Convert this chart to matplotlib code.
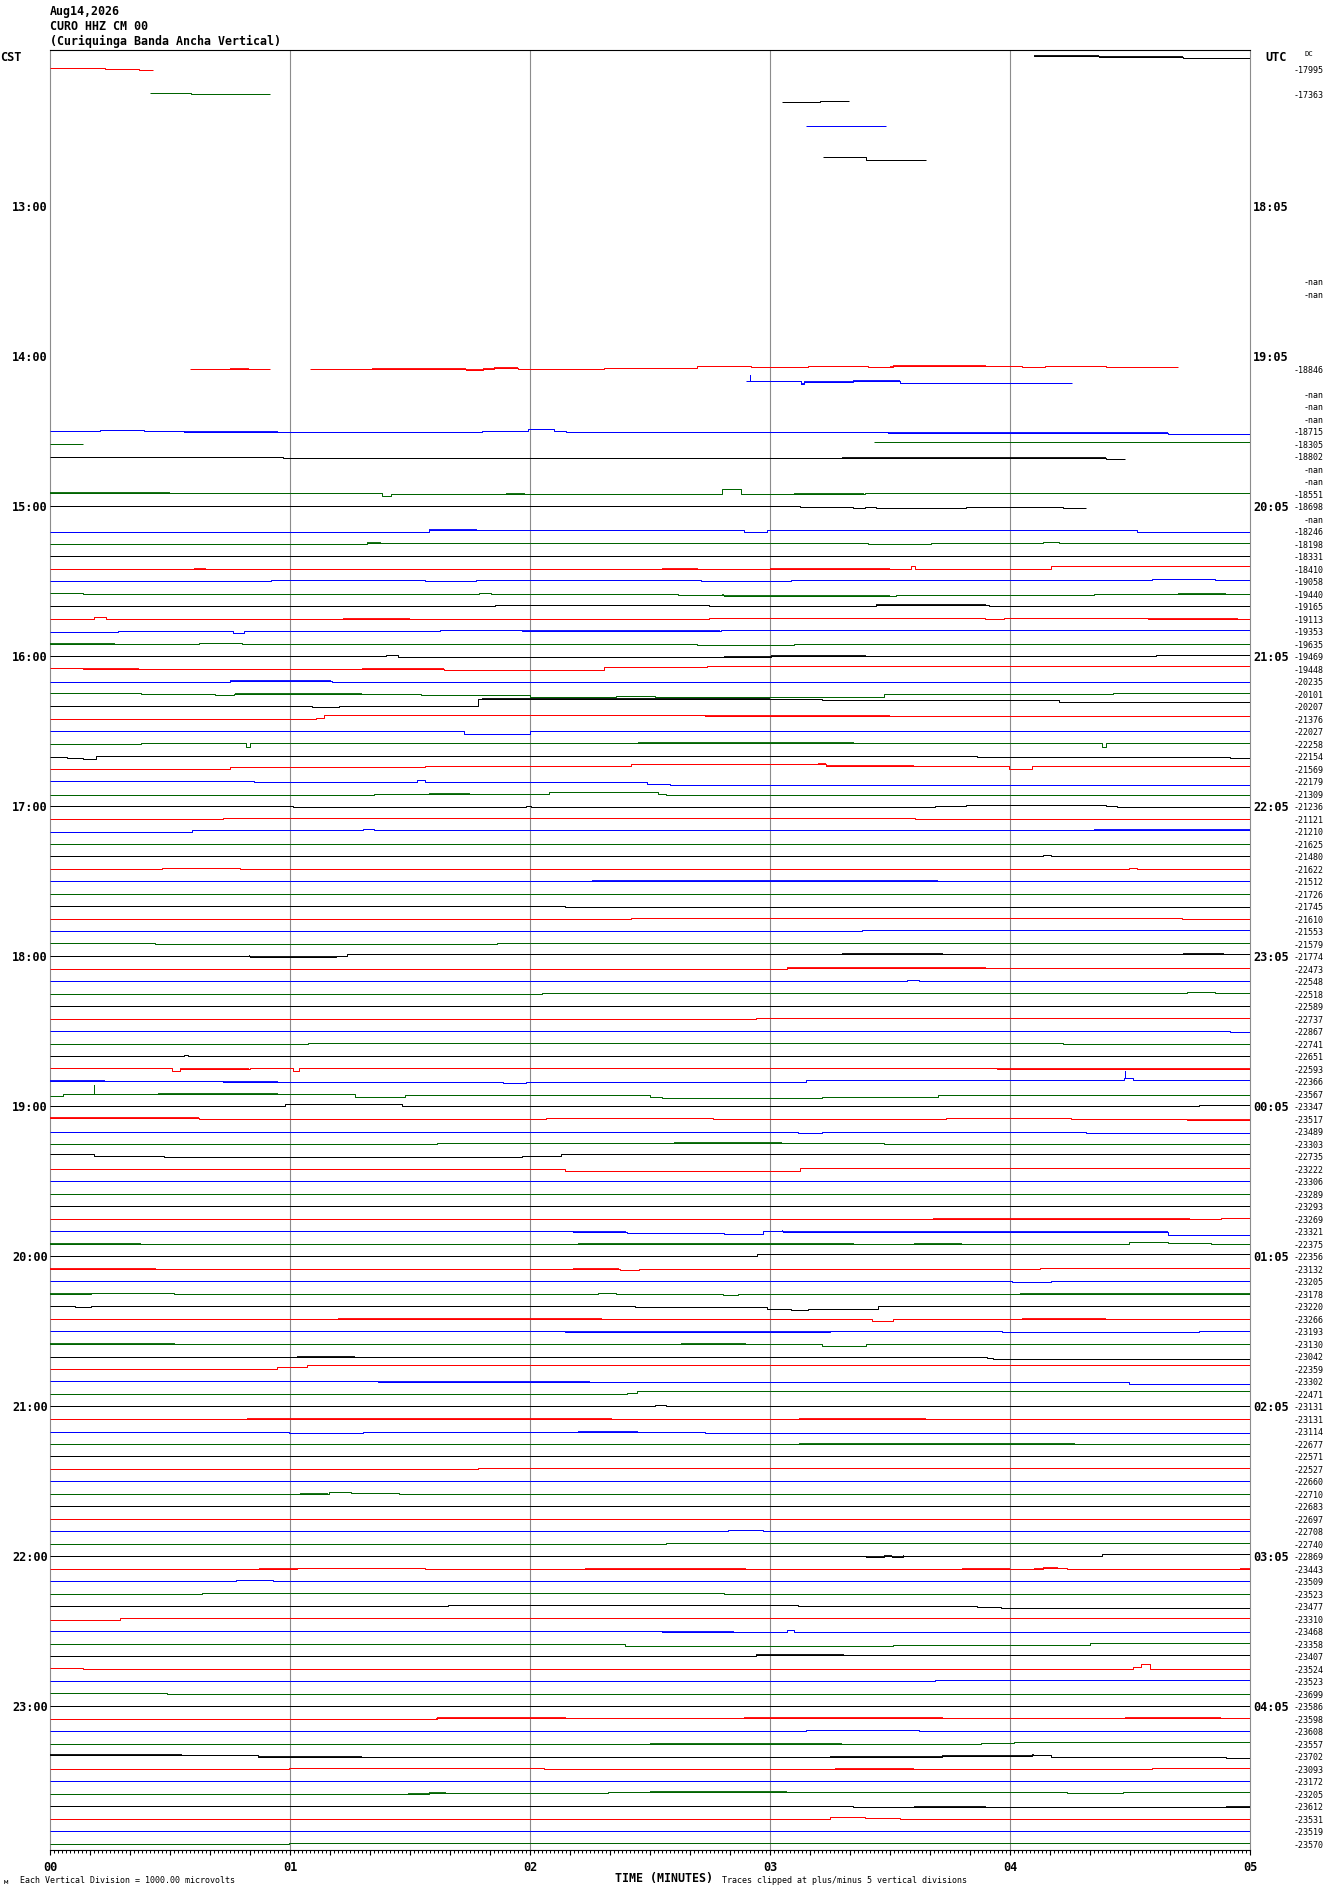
import matplotlib
matplotlib.use('Agg')
import matplotlib.pyplot as plt

# ---------------- data ----------------
title_lines = ['Aug14,2026', 'CURO HHZ CM 00', '(Curiquinga Banda Ancha Vertical)']
cst_labels = ['13:00', '14:00', '15:00', '16:00', '17:00', '18:00', '19:00',
              '20:00', '21:00', '22:00', '23:00']
utc_labels = ['18:05', '19:05', '20:05', '21:05', '22:05', '23:05', '00:05',
              '01:05', '02:05', '03:05', '04:05']
minute_labels = ['00', '01', '02', '03', '04', '05']

# DC offset label per row (row 0 .. 143), '' = none
dc_labels = (['', '-17995', '', '-17363'] + [''] * 14 + ['-nan', '-nan'] + [''] * 5 +
             ['-18846', '', '-nan', '-nan', '-nan', '-18715', '-18305', '-18802', '-nan', '-nan',
              '-18551', '-18698', '-nan', '-18246', '-18198', '-18331', '-18410', '-19058',
              '-19440', '-19165', '-19113', '-19353', '-19635', '-19469', '-19448', '-20235',
              '-20101', '-20207', '-21376', '-22027', '-22258', '-22154', '-21569', '-22179',
              '-21309', '-21236', '-21121', '-21210', '-21625', '-21480', '-21622', '-21512',
              '-21726', '-21745', '-21610', '-21553', '-21579', '-21774', '-22473', '-22548',
              '-22518', '-22589', '-22737', '-22867', '-22741', '-22651', '-22593', '-22366',
              '-23567', '-23347', '-23517', '-23489', '-23303', '-22735', '-23222', '-23306',
              '-23289', '-23293', '-23269', '-23321', '-22375', '-22356', '-23132', '-23205',
              '-23178', '-23220', '-23266', '-23193', '-23130', '-23042', '-22359', '-23302',
              '-22471', '-23131', '-23131', '-23114', '-22677', '-22571', '-22527', '-22660',
              '-22710', '-22683', '-22697', '-22708', '-22740', '-22869', '-23443', '-23509',
              '-23523', '-23477', '-23310', '-23468', '-23358', '-23407', '-23524', '-23523',
              '-23699', '-23586', '-23598', '-23608', '-23557', '-23702', '-23093', '-23172',
              '-23205', '-23612', '-23531', '-23519', '-23570'])

# traces: (row, end minute, [(start minute, deviation), ...]) deviation in chart pixels
traces = [
    (0, 5.0, [(4.10, -1.2), (4.37, -0.2), (4.72, 0.8)]),
    (1, 0.43, [(0.0, -1.7), (0.23, -0.7), (0.37, 0.3)]),
    (3, 0.917, [(0.415, -1.7), (0.587, -0.7)]),
    (4, 3.33, [(3.05, -5.8), (3.21, -6.2)]),
    (6, 3.485, [(3.15, -6.2)]),
    (8, 3.65, [(3.22, -0.8), (3.40, 2.5)]),
    (25, 0.917, [(0.583, -0.7)]),
    (25, 4.70, [(1.083, -0.7), (1.342, -1.3), (1.734, 0.3), (1.805, -0.7), (1.848, -1.7),
                (1.951, -1.0), (2.308, -1.7), (2.697, -4.0), (2.921, -2.7), (3.16, -4.0),
                (3.41, -2.7), (3.514, -3.7), (3.896, -4.0), (4.049, -2.7), (4.146, -4.0),
                (4.399, -2.7), (4.496, -3.3)]),
    (26, 4.26, [(2.90, -1.5), (3.13, 1.8), (3.14, -0.5), (3.345, -1.5), (3.54, 0.0)]),
    (30, 5.0, [(0, -1.5), (0.21, -2.2), (0.39, -1.5), (0.56, -0.5), (1.0, -0.8), (1.80, -1.8),
               (1.99, -3.2), (2.10, -1.5), (2.15, -0.2), (3.49, 0.2), (4.66, 1.2)]),
    (31, 0.136, [(0, -1.0)]),
    (31, 5.0, [(3.433, -2.7)]),
    (32, 4.48, [(0, -0.8), (0.97, 0.2), (4.40, 1.2)]),
    (35, 5.0, [(0, -1.7), (1.384, 1.0), (1.42, -1.3), (2.80, -5.7), (2.878, -0.7), (3.394, -1.7)]),
    (36, 4.318, [(0, -1.2), (3.125, -0.2), (3.345, 0.8), (3.394, -0.2), (3.442, 0.8),
                 (3.815, -0.2), (4.22, 0.8)]),
    (38, 5.0, [(0, -0.8), (1.579, -2.2), (2.891, -0.8), (2.989, -2.2), (4.528, -0.8)]),
    (39, 5.0, [(0, -0.7), (1.319, -1.7), (3.41, -0.7), (3.669, -1.7), (4.139, -2.7), (4.204, -1.7)]),
    (40, 5.0, [(0, -1.2)]),
    (41, 5.0, [(0, -0.7), (3.588, -4.0), (3.605, -0.7), (4.172, -4.0)]),
    (42, 5.0, [(0, -1.2), (0.921, -2.2), (1.562, -1.2), (1.773, -2.2), (2.713, -1.2),
               (3.086, -2.2), (4.058, -2.5), (4.593, -3.2), (4.853, -2.2)]),
    (43, 5.0, [(0, -2.0), (0.136, -1.0), (1.789, -2.0), (1.838, -1.0), (2.616, 0.0), (2.81, 0.7),
               (3.134, 1.0), (3.524, 0.0), (4.35, -0.7)]),
    (44, 5.0, [(0, -1.2), (1.854, -2.2), (2.746, -1.2), (3.442, -2.2), (3.912, -1.2)]),
    (45, 5.0, [(0, -1.0), (0.185, -2.7), (0.233, -1.0), (0.622, -0.7), (1.222, -1.3),
               (2.697, -0.7), (2.746, -1.7), (3.896, -0.7), (3.977, -1.7), (4.577, -1.3)]),
    (46, 5.0, [(0, -0.2), (0.282, -1.2), (0.762, 0.8), (0.807, -1.8), (1.627, -2.2),
               (1.968, -1.8), (2.794, -2.2)]),
    (47, 5.0, [(0, -1.3), (0.266, -0.7), (0.622, -1.7), (0.80, -1.0), (1.028, -0.7),
               (2.697, 0.3), (3.102, -0.7)]),
    (48, 5.0, [(0, -1.5), (1.40, -2.2), (1.449, -0.2), (1.724, -0.8), (2.81, -0.2),
               (3.005, -1.8), (3.426, -1.2), (4.609, -2.2)]),
    (49, 5.0, [(0, -2.0), (0.136, -1.3), (1.643, -0.3), (1.854, 0.0), (2.308, -2.7), (2.736, -3.7)]),
    (50, 5.0, [(0, -0.8), (0.752, -1.8), (1.173, -0.8), (4.172, -0.2), (4.545, -0.8)]),
    (51, 5.0, [(0, -1.7), (0.379, -0.7), (0.687, 0.3), (0.768, -1.0), (1.546, 0.3), (2.0, 2.0),
               (2.357, 1.3), (2.519, 2.0), (3.475, -0.7), (4.431, -2.0)]),
    (52, 5.0, [(0, -1.5), (1.092, -0.5), (1.206, -1.5), (1.783, -8.2), (3.216, -7.2), (4.204, -5.5)]),
    (53, 5.0, [(0, -0.7), (0.882, -1.3), (1.109, -2.0), (1.141, -5.0), (2.729, -4.3)]),
    (54, 5.0, [(0, -1.2), (1.724, 1.2), (2.0, -1.5)]),
    (55, 5.0, [(0, -1.3), (0.379, -1.7), (0.817, 1.7), (0.835, -1.7), (4.382, 2.3), (4.40, -1.7)]),
    (56, 5.0, [(0, -0.8), (0.07, 0.0), (0.136, 1.5), (0.19, -1.2), (3.864, -0.2), (4.917, 0.8)]),
    (57, 5.0, [(0, -0.7), (0.752, -3.0), (1.562, -4.0), (2.421, -5.7), (2.616, -6.0),
               (3.232, -3.7), (3.994, -0.7), (4.091, -4.0)]),
    (58, 5.0, [(0, -1.8), (0.849, -0.5), (1.53, -2.5), (1.562, -0.5), (2.486, 1.2), (2.583, 2.5)]),
    (59, 5.0, [(0, -0.3), (1.352, -0.7), (1.579, -1.3), (2.081, -3.0), (2.535, -1.3), (2.567, -0.3)]),
    (60, 5.0, [(0, -1.2), (1.011, -0.2), (1.984, -1.8), (2.006, -0.2), (3.686, -1.2),
               (3.815, -2.2), (4.399, -1.2), (4.447, -0.2)]),
    (61, 5.0, [(0, -0.7), (0.72, -1.7), (3.605, -0.7)]),
    (62, 5.0, [(0, -0.2), (0.59, -2.2), (1.303, -3.2), (1.352, -2.2), (4.35, -2.8)]),
    (63, 5.0, [(0, -0.7)]),
    (64, 5.0, [(0, -1.2), (4.139, -2.2), (4.17, -1.2)]),
    (65, 5.0, [(0, -0.7), (0.467, -2.0), (0.791, -0.7), (4.496, -2.0), (4.53, -0.7)]),
    (66, 5.0, [(0, -1.2), (1.498, -1.8), (2.259, -1.5), (3.702, -1.8)]),
    (67, 5.0, [(0, -0.7)]),
    (68, 5.0, [(0, -1.2), (2.146, -0.2)]),
    (69, 5.0, [(0, -0.7), (2.421, -1.7), (4.716, -0.7)]),
    (70, 5.0, [(0, -1.2), (3.384, -2.2)]),
    (71, 5.0, [(0, -1.7), (0.438, -0.7), (1.861, -1.7)]),
    (72, 5.0, [(0, -1.2), (0.833, -0.5), (1.19, -1.8), (1.238, -3.2)]),
    (73, 5.0, [(0, -1.0), (3.07, -1.7)]),
    (74, 5.0, [(0, -1.2), (3.572, -2.2), (3.62, -1.2)]),
    (75, 5.0, [(0, -0.7), (2.049, -1.7), (4.739, -2.7), (4.853, -1.7)]),
    (76, 5.0, [(0, -1.2)]),
    (77, 5.0, [(0, -0.7), (2.94, -1.7)]),
    (78, 5.0, [(0, -1.2), (4.917, -0.2)]),
    (79, 5.0, [(0, -0.7), (1.076, -1.7), (4.22, -0.7)]),
    (80, 5.0, [(0, -1.2), (0.558, -2.2), (0.574, -1.2)]),
    (81, 5.0, [(0, -1.7), (0.509, 0.7), (0.541, -0.7), (0.833, -1.7), (1.011, 1.0),
               (1.037, -1.7), (3.945, -0.7)]),
    (82, 5.0, [(0, -1.8), (0.233, -1.2), (0.72, -0.8), (1.886, 0.2), (1.984, -0.5),
               (3.15, -2.2), (4.473, -4.8), (4.512, -2.8)]),
    (83, 5.0, [(0, 0.7), (0.055, -0.7), (0.19, -1.3), (0.444, -0.7), (1.271, 2.3), (1.481, 0.0),
               (2.502, 2.3), (2.551, 3.3), (3.216, 2.3), (3.702, 0.0)]),
    (84, 5.0, [(0, -1.2), (0.979, -3.8), (1.465, -1.2), (4.788, -2.2)]),
    (85, 5.0, [(0, -1.7), (0.622, -0.7), (2.065, -1.7), (2.762, -0.7), (3.734, -1.7),
               (4.253, -0.7), (4.739, 0.0)]),
    (86, 5.0, [(0, -0.8), (3.118, 0.2), (3.216, -0.8), (4.318, 0.2)]),
    (87, 5.0, [(0, -0.7), (1.611, -1.7), (3.475, -0.7)]),
    (88, 5.0, [(0, -3.2), (0.185, -1.8), (0.476, -0.5), (1.968, -1.5), (2.13, -3.2)]),
    (89, 5.0, [(0, -0.7), (2.146, 1.3), (3.125, -2.0)]),
    (90, 5.0, [(0, -1.2)]),
    (91, 5.0, [(0, -0.7)]),
    (92, 5.0, [(0, -1.2)]),
    (93, 5.0, [(0, -0.7), (3.685, -1.3), (4.88, -1.7)]),
    (94, 5.0, [(0, -1.2), (2.178, -0.5), (2.405, 0.5), (2.81, 1.2), (2.972, -1.2),
               (3.053, -0.2), (4.658, 2.8)]),
    (95, 5.0, [(0, -0.7), (4.496, -2.7), (4.658, -1.7), (4.836, -0.7)]),
    (96, 5.0, [(0, -1.2), (2.946, -3.8), (3.06, -3.2), (3.355, -3.8)]),
    (97, 5.0, [(0, -1.3), (0.438, -0.7), (2.373, 0.3), (2.454, -0.7), (4.123, -1.7)]),
    (98, 5.0, [(0, -1.2), (4.01, -0.2), (4.172, -1.2)]),
    (99, 5.0, [(0, -1.3), (0.169, -1.7), (0.515, -0.7), (2.285, -1.7), (2.357, -0.7),
               (2.804, 0.3), (2.865, -0.7), (4.04, -1.3)]),
    (100, 5.0, [(0, -1.5), (0.104, -0.2), (0.169, -1.2), (2.438, -0.2), (2.989, 1.8),
                (3.086, 2.8), (3.16, 1.8), (3.449, -1.2)]),
    (101, 5.0, [(0, -0.7), (0.645, -1.5), (3.426, 1.3), (3.514, -0.7)]),
    (102, 5.0, [(0, -1.2), (2.146, -0.5), (3.25, -1.2), (3.968, -0.2), (4.788, -1.2)]),
    (103, 5.0, [(0, -1.0), (3.216, 1.3), (3.40, -1.0)]),
    (104, 5.0, [(0, -0.8), (3.903, 0.5), (3.929, 1.5)]),
    (105, 5.0, [(0, -0.7), (0.946, -3.3), (1.07, -4.7)]),
    (106, 5.0, [(0, -1.2), (1.368, -0.5), (4.496, 1.8)]),
    (107, 5.0, [(0, -0.7), (2.405, -1.7), (2.444, -3.7)]),
    (108, 5.0, [(0, -1.2), (2.519, -2.2), (2.567, -1.2)]),
    (109, 5.0, [(0, -1.3)]),
    (110, 5.0, [(0, -0.8), (0.995, 0.2), (1.303, -0.8), (2.729, 0.2), (4.415, 0.8)]),
    (111, 5.0, [(0, -0.7), (3.118, -1.3), (4.27, -0.7)]),
    (112, 5.0, [(0, -1.2)]),
    (113, 5.0, [(0, -0.7), (1.783, -1.7)]),
    (114, 5.0, [(0, -1.2)]),
    (115, 5.0, [(0, -0.7), (1.044, -1.3), (1.164, -2.7), (1.254, -2.0), (1.455, -0.7)]),
    (116, 5.0, [(0, -1.2)]),
    (117, 5.0, [(0, -0.7)]),
    (118, 5.0, [(0, -1.2), (2.827, -2.5), (2.972, -1.2)]),
    (119, 5.0, [(0, -0.7), (2.567, -1.7), (2.827, -2.0)]),
    (120, 5.0, [(0, -1.2), (3.40, -0.2), (3.475, -1.2), (3.507, -0.2), (3.556, -1.2), (4.382, -3.2)]),
    (121, 5.0, [(0, -1.0), (1.028, -1.7), (1.562, -1.0), (4.139, -1.7), (4.237, -1.0)]),
    (122, 5.0, [(0, -1.2), (0.775, -2.5), (0.93, -1.2)]),
    (123, 5.0, [(0, -0.7), (0.632, -1.7), (2.81, -0.7)]),
    (124, 5.0, [(0, -1.2), (1.66, -2.2), (3.118, -1.2), (3.864, -0.2), (3.961, 0.8)]),
    (125, 5.0, [(0, 0.3), (0.292, -2.0)]),
    (126, 5.0, [(0, -1.2), (2.551, -0.5), (3.07, -2.2), (3.10, -0.2)]),
    (127, 5.0, [(0, -0.7), (2.395, 1.0), (3.514, 0.0), (4.334, -1.7)]),
    (128, 5.0, [(0, -1.2), (2.94, -2.2)]),
    (129, 5.0, [(0, -1.7), (0.136, -0.7), (4.512, -2.7), (4.545, -6.0), (4.583, -0.7)]),
    (130, 5.0, [(0, -1.2), (3.686, -2.2)]),
    (131, 5.0, [(0, -1.7), (0.486, -0.7)]),
    (132, 5.0, [(0, -1.2)]),
    (133, 5.0, [(0, -0.7), (1.611, -1.7)]),
    (134, 5.0, [(0, -1.2), (3.15, -2.5), (3.621, -1.2)]),
    (135, 5.0, [(0, -0.7), (2.94, -1.0), (3.88, -1.7), (4.016, -2.7)]),
    (136, 5.0, [(0, -2.2), (0.866, -0.8), (3.718, -1.2), (4.091, -2.5), (4.172, -0.5), (4.901, 0.8)]),
    (137, 5.0, [(0, -0.7), (0.995, -1.7), (2.058, -0.7), (4.593, -1.7)]),
    (138, 5.0, [(0, -1.2)]),
    (139, 5.0, [(0, -0.7), (1.488, -1.3), (1.579, -1.7), (2.324, -3.3), (4.237, -2.3),
                (4.47, -3.3), (4.94, -2.7)]),
    (140, 5.0, [(0, -1.2), (3.345, -0.2)]),
    (141, 5.0, [(0, -0.7), (3.118, -1.3), (3.248, -3.0), (3.394, -1.7), (3.54, -0.7)]),
    (142, 5.0, [(0, -1.2)]),
    (143, 5.0, [(0, -0.7), (0.995, -1.7)]),
]

# spans where the trace is visibly noisy: (row, from minute, to minute)
noisy_spans = [
    (0, 4.10, 4.72), (25, 0.75, 0.83), (25, 1.34, 1.95), (25, 3.5, 3.9), (26, 3.13, 3.54),
    (30, 0.56, 0.95), (30, 3.49, 4.66), (32, 3.3, 4.4), (35, 0.0, 0.5), (35, 1.9, 1.98),
    (35, 3.1, 3.39), (38, 1.58, 1.78), (39, 1.32, 1.38), (41, 0.6, 0.65), (41, 2.55, 2.70),
    (41, 3.0, 3.5), (43, 2.8, 3.5), (43, 4.7, 4.9), (44, 3.44, 3.9), (45, 1.22, 1.5),
    (45, 4.58, 4.95), (46, 1.97, 2.79), (47, 0.0, 0.27), (48, 2.81, 3.4), (49, 0.14, 0.37),
    (49, 1.3, 1.64), (50, 0.75, 1.17), (51, 0.77, 1.3), (52, 1.8, 3.0), (53, 2.73, 3.5),
    (55, 2.45, 3.35), (57, 3.2, 3.6), (59, 1.58, 1.75), (62, 4.35, 5.0), (66, 2.26, 3.70),
    (72, 0.83, 1.19), (72, 3.3, 3.72), (72, 4.72, 4.89), (73, 3.07, 3.9), (81, 0.54, 0.83),
    (81, 3.95, 5.0), (82, 0.0, 0.23), (82, 0.72, 0.95), (83, 0.45, 0.95), (85, 0.0, 0.62),
    (85, 4.74, 5.0), (87, 2.6, 3.05), (93, 3.68, 4.75), (94, 2.18, 2.4), (94, 3.05, 4.66),
    (95, 0.0, 0.38), (95, 2.2, 3.35), (95, 3.6, 3.8), (97, 0.0, 0.44), (97, 2.18, 2.37),
    (99, 0.0, 0.17), (99, 4.04, 5.0), (101, 1.2, 2.3), (101, 4.05, 4.4), (102, 2.15, 3.25),
    (103, 0.0, 0.52), (103, 2.63, 2.9), (104, 1.03, 1.27), (106, 1.37, 2.25), (109, 0.82, 2.34),
    (109, 3.12, 3.65), (110, 2.2, 2.45), (111, 3.12, 4.27), (115, 1.04, 1.16), (120, 3.4, 3.56),
    (121, 0.87, 1.03), (121, 2.23, 2.9), (121, 3.8, 4.0), (121, 4.1, 4.2), (121, 4.96, 5.0),
    (126, 2.55, 2.85), (128, 2.94, 3.31), (133, 1.61, 2.15), (133, 2.89, 3.72), (133, 4.48, 4.88),
    (135, 2.5, 3.3), (136, 0.0, 0.55), (136, 0.87, 1.3), (136, 3.25, 4.1), (137, 3.27, 3.6),
    (139, 1.49, 1.65), (139, 2.5, 3.07), (140, 3.6, 3.9), (140, 4.9, 5.0),
]

# isolated spikes: (row, minute, peak deviation)
spikes = [(26, 2.915, -7.5), (82, 4.478, -11.5), (83, 0.182, -10.0)]

# ---------------- drawing ----------------
W, H, DPI = 1330, 1894, 100
ROW_PX = 12.5                      # pixel height of one trace row
row_colors = ['#000000', '#ff0000', '#0000ff', '#006400']
MONO = 'DejaVu Sans Mono'
LW = 0.72          # one pixel
LW_NOISY = 1.3

fig = plt.figure(figsize=(W / DPI, H / DPI), dpi=DPI, facecolor='white')
ax = fig.add_axes([50 / W, 1 - 1850 / H, 1200 / W, 1800 / H])
ax.set_xlim(0, 5)
ax.set_ylim(143.4, -0.6)


def color_of(r):
    return row_colors[r % 4]


for r, x_end, steps in traces:
    xs = [s[0] for s in steps] + [x_end]
    ys = [r + s[1] / ROW_PX for s in steps]
    ys.append(ys[-1])
    ax.plot(xs, ys, drawstyle='steps-post', color=color_of(r), lw=LW,
            snap=True, solid_capstyle='butt', zorder=3)

for r, a, b in noisy_spans:
    for tr, x_end, steps in traces:
        if tr != r:
            continue
        xs = [s[0] for s in steps] + [x_end]
        for i, (x0, dy) in enumerate(steps):
            lo, hi = max(x0, a), min(xs[i + 1], b)
            if lo < hi:
                ax.plot([lo, hi], [r + dy / ROW_PX] * 2, color=color_of(r), lw=LW_NOISY,
                        snap=True, solid_capstyle='butt', zorder=3)


def level_at(r, x):
    for tr, x_end, steps in traces:
        if tr == r and steps[0][0] <= x <= x_end:
            val = steps[0][1]
            for sx, dy in steps:
                if sx <= x:
                    val = dy
            return val
    return 0.0


for r, x, peak in spikes:
    base = level_at(r, x)
    ax.plot([x, x], [r + base / ROW_PX, r + peak / ROW_PX], color=color_of(r), lw=LW,
            snap=True, zorder=3)

# minute grid lines
for m in range(1, len(minute_labels) - 1):
    ax.axvline(m, color='#8c8c8c', lw=0.8, zorder=1)

for side in ['left', 'right']:
    ax.spines[side].set_color('#8c8c8c')
    ax.spines[side].set_linewidth(0.8)
for side in ['top', 'bottom']:
    ax.spines[side].set_color('black')
    ax.spines[side].set_linewidth(0.8)

ax.set_yticks([])
# major ticks every 10 s (labelled at whole minutes), minor every second
n_major = 6 * (len(minute_labels) - 1) + 1
major_pos = [i / 6 for i in range(n_major)]
major_lab = [minute_labels[i // 6] if i % 6 == 0 else '' for i in range(n_major)]
ax.set_xticks(major_pos, major_lab)
ax.set_xticks([i / 60 for i in range(301) if i % 10 != 0], minor=True)
ax.tick_params(axis='x', which='major', direction='out', length=3.4, width=0.8,
               color='black', pad=4.5, labelsize=8.6)
ax.tick_params(axis='x', which='minor', direction='out', length=1.8, width=0.7, color='black')
for lab in ax.get_xticklabels():
    lab.set_fontfamily(MONO)
    lab.set_fontweight('bold')

# hour labels
yt = ax.get_yaxis_transform()
for i, lab in enumerate(cst_labels):
    ax.text(-0.0017, 12 * (i + 1), lab, transform=yt, ha='right', va='center',
            family=MONO, weight='bold', size=8.6)
for i, lab in enumerate(utc_labels):
    ax.text(1.0025, 12 * (i + 1), lab, transform=yt, ha='left', va='center',
            family=MONO, weight='bold', size=8.6)
ax.text(-0.0415, 0, 'CST', transform=yt, ha='left', va='center', family=MONO,
        weight='bold', size=8.6)
ax.text(1.0125, 0, 'UTC', transform=yt, ha='left', va='center', family=MONO,
        weight='bold', size=8.6)
ax.text(1.0455, -0.3, 'DC', transform=yt, ha='left', va='center', family=MONO, size=5.2)

for r, lab in enumerate(dc_labels):
    if lab:
        ax.text(1.0617, r, lab, transform=yt, ha='right', va='center', family=MONO, size=6)


def fig_xy(x, y):
    return x / W, 1 - y / H


for i, line in enumerate(title_lines):
    fx, fy = fig_xy(50, 12 + 14.5 * i)
    fig.text(fx, fy, line, ha='left', va='center', family=MONO, weight='bold', size=8.4)

fx, fy = fig_xy(20, 1880)
fig.text(fx, fy, 'Each Vertical Division = 1000.00 microvolts', ha='left', va='center',
         family=MONO, size=6)
fx, fy = fig_xy(4, 1882)
fig.text(fx, fy, 'м', ha='left', va='center', family=MONO, size=5)
fx, fy = fig_xy(615, 1878)
fig.text(fx, fy, 'TIME (MINUTES)', ha='left', va='center', family=MONO, weight='bold', size=8.4)
fx, fy = fig_xy(722, 1880)
fig.text(fx, fy, 'Traces clipped at plus/minus 5 vertical divisions', ha='left', va='center',
         family=MONO, size=6)

fig.savefig('out.png', dpi=DPI, facecolor='white')
